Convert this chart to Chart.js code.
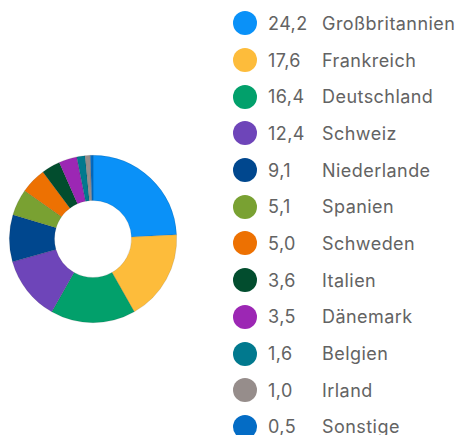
<!DOCTYPE html>
<html>
<head>
<meta charset="utf-8">
<script src="https://cdn.jsdelivr.net/npm/chart.js@4"></script>
<style>
  html, body { margin: 0; padding: 0; background: #fff; }
  body { width: 457px; height: 435px; position: relative; overflow: hidden; font-family: Inter, "Open Sans", sans-serif; }
  #chartBox { position: absolute; left: 1px; top: 147px; width: 184px; height: 184px; }
  #legend { position: absolute; left: 233px; top: 5px; margin: 0; padding: 0; list-style: none; }
  #legend li { height: 36.7px; display: flex; align-items: center; color: #636363; font-size: 18px; letter-spacing: 0.45px; }
  #legend .dot { width: 24px; height: 24px; border-radius: 50%; display: inline-block; }
  #legend .val { width: 54px; margin-left: 11px; }
</style>
</head>
<body>
<div id="chartBox"><canvas id="donut_chart_countries"></canvas></div>
<ul id="legend"></ul>
<script>
var countries = ["Großbritannien", "Frankreich", "Deutschland", "Schweiz", "Niederlande", "Spanien", "Schweden", "Italien", "Dänemark", "Belgien", "Irland", "Sonstige"];
var shares = [24.2, 17.6, 16.4, 12.4, 9.1, 5.1, 5.0, 3.6, 3.5, 1.6, 1.0, 0.5];
var colors = ["#0a91f8", "#fdbc3b", "#02a06b", "#6e45b9", "#00478e", "#79a132", "#ed7102", "#024d2e", "#9c27b4", "#01798e", "#968d8b", "#046cc5"];

function showLegend() {
  var list = document.getElementById("legend");
  for (var i = 0; i < countries.length; i++) {
    var li = document.createElement("li");
    li.innerHTML = '<span class="dot" style="background:' + colors[i] + '"></span>' +
      '<span class="val">' + shares[i].toFixed(1).replace(".", ",") + '</span>' +
      '<span class="name">' + countries[i] + '</span>';
    list.appendChild(li);
  }
}

function showDonutChart() {
  var config = {
    type: 'doughnut',
    data: {
      labels: countries,
      datasets: [{
        data: shares,
        backgroundColor: colors,
        borderColor: 'rgba(0, 0, 0, 0.18)',
        borderWidth: 0.6
      }]
    },
    options: {
      responsive: true,
      maintainAspectRatio: false,
      animation: false,
      cutout: '46%',
      layout: { padding: 8 },
      plugins: {
        legend: { display: false },
        tooltip: { enabled: false }
      }
    }
  };
  new Chart(document.getElementById("donut_chart_countries").getContext("2d"), config);
}

showLegend();
showDonutChart();
</script>
</body>
</html>
